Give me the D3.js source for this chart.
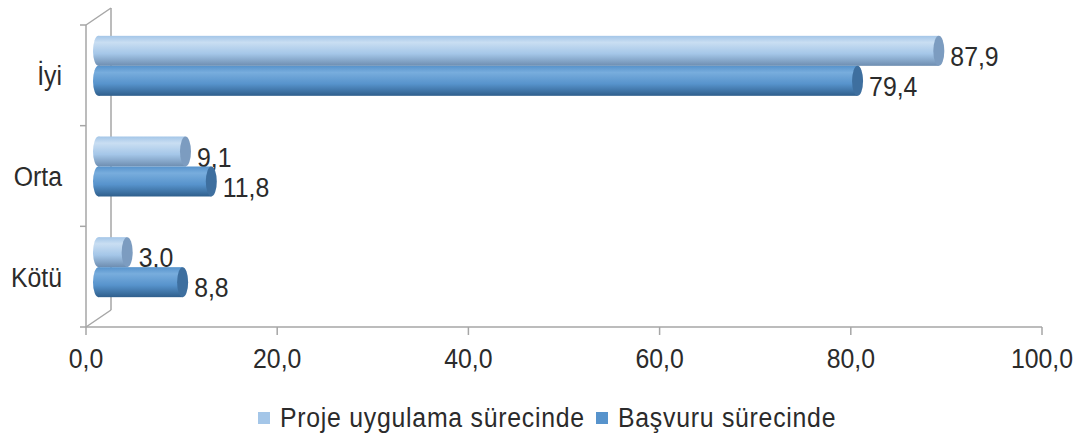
<!DOCTYPE html>
<html>
<head>
<meta charset="utf-8">
<script src="https://cdn.jsdelivr.net/npm/d3@7"></script>
<style>
  body { margin: 0; background: #fff; }
  text { font-family: "Liberation Sans", Arial, sans-serif; fill: #2b2b2b; }
</style>
</head>
<body>
<div id="chart"></div>
<script>
// chart data
const categories = ["İyi", "Orta", "Kötü"];
const seriesNames = ["Proje uygulama sürecinde", "Başvuru sürecinde"];
const projeValues = [87.9, 9.1, 3.0];
const basvuruValues = [79.4, 11.8, 8.8];
const tickValues = [0, 20, 40, 60, 80, 100];

const width = 1074, height = 436;
const depthX = 25, depthY = -17;   // offset of the back wall
const sx = 0.92;                   // text in the picture is a bit narrow

const colors = [
    { top: "#c9def2", mid: "#a4c6e8", bot: "#6d8db0", cap: "#7c9cc0" },
    { top: "#78addd", mid: "#5793cc", bot: "#2f5f8c", cap: "#3e6f9f" }
];

let svg = d3.select("#chart")
    .append("svg")
    .attr("width", width)
    .attr("height", height);

let x = d3.scaleLinear().domain([0, 100]).range([86, 1042]);
let y = d3.scaleBand().domain(categories).range([25, 327]);
let inner = d3.scaleBand().domain(seriesNames).range([0, 60]);

// gradients for the cylinders
let defs = svg.append("defs");
colors.forEach(function (c, i) {
    let g = defs.append("linearGradient")
        .attr("id", "grad" + i)
        .attr("x1", 0).attr("y1", 0).attr("x2", 0).attr("y2", 1);
    g.append("stop").attr("offset", "0%").attr("stop-color", c.mid);
    g.append("stop").attr("offset", "22%").attr("stop-color", c.top);
    g.append("stop").attr("offset", "60%").attr("stop-color", c.mid);
    g.append("stop").attr("offset", "100%").attr("stop-color", c.bot);
});

let stretched = function (sel, tx, ty, anchor) {
    return sel.append("text")
        .attr("transform", "translate(" + tx + "," + ty + ") scale(" + sx + ",1)")
        .attr("text-anchor", anchor)
        .style("font-size", "27px");
};

// walls
const gridColor = "#a6a6a6";
let walls = svg.append("g").attr("stroke", gridColor).attr("stroke-width", 1.5).attr("fill", "none");
walls.append("line").attr("x1", 86).attr("y1", 25).attr("x2", 86).attr("y2", 327);
walls.append("line").attr("x1", 86 + depthX).attr("y1", 25 + depthY).attr("x2", 86 + depthX).attr("y2", 327 + depthY);
walls.append("line").attr("x1", 86).attr("y1", 25).attr("x2", 86 + depthX).attr("y2", 25 + depthY);
walls.append("line").attr("x1", 86).attr("y1", 327).attr("x2", 86 + depthX).attr("y2", 327 + depthY);
walls.append("line").attr("x1", 86).attr("y1", 327).attr("x2", 1042).attr("y2", 327);

// category ticks on the left
let bounds = categories.map(function (c) { return y(c); }).concat([327]);
walls.selectAll("line.ctick")
    .data(bounds)
    .enter()
    .append("line")
    .attr("class", "ctick")
    .attr("x1", 80).attr("x2", 86)
    .attr("y1", function (d) { return d; })
    .attr("y2", function (d) { return d; });

// value axis ticks
walls.selectAll("line.vtick")
    .data(tickValues)
    .enter()
    .append("line")
    .attr("class", "vtick")
    .attr("x1", function (d) { return x(d); })
    .attr("x2", function (d) { return x(d); })
    .attr("y1", 327).attr("y2", 335);

tickValues.forEach(function (t) {
    stretched(svg, x(t), 368, "middle").text(t.toFixed(1).replace(".", ","));
});

categories.forEach(function (c) {
    stretched(svg, 62, y(c) + y.bandwidth() / 2 + 10, "end").text(c);
});

// bars (drawn at mid depth)
let xb = d3.scaleLinear().domain([0, 100]).range([86 + depthX / 2, 1042 + depthX / 2]);
const capRx = 5.5;
let barData = [];
categories.forEach(function (c, i) {
    barData.push({ cat: c, s: 0, value: projeValues[i] });
    barData.push({ cat: c, s: 1, value: basvuruValues[i] });
});

let bars = svg.selectAll("g.bar")
    .data(barData)
    .enter()
    .append("g")
    .attr("class", "bar")
    .attr("transform", function (d) {
        let cy = y(d.cat) + y.bandwidth() / 2 + depthY / 2 - 30 + inner(seriesNames[d.s]) - 1;
        return "translate(0," + cy + ")";
    });

let bh = inner.bandwidth();
bars.append("rect")
    .attr("x", xb(0))
    .attr("y", 0)
    .attr("width", function (d) { return xb(d.value) - xb(0); })
    .attr("height", bh)
    .attr("fill", function (d) { return "url(#grad" + d.s + ")"; });
bars.append("ellipse")
    .attr("cx", xb(0))
    .attr("cy", bh / 2)
    .attr("rx", capRx)
    .attr("ry", bh / 2)
    .attr("fill", function (d) { return "url(#grad" + d.s + ")"; });
bars.append("ellipse")
    .attr("cx", function (d) { return xb(d.value); })
    .attr("cy", bh / 2)
    .attr("rx", capRx)
    .attr("ry", bh / 2)
    .attr("fill", function (d) { return colors[d.s].cap; });

bars.each(function (d) {
    stretched(d3.select(this), xb(d.value) + capRx + 6, bh / 2 + 15, "start")
        .text(d.value.toFixed(1).replace(".", ","));
});

// legend
const legendX = [258, 596];
seriesNames.forEach(function (name, i) {
    svg.append("rect")
        .attr("x", legendX[i]).attr("y", 412)
        .attr("width", 12).attr("height", 12)
        .attr("fill", colors[i].mid);
    stretched(svg, legendX[i] + 22, 427, "start")
        .style("letter-spacing", "0.8px")
        .text(name);
});
</script>
</body>
</html>
